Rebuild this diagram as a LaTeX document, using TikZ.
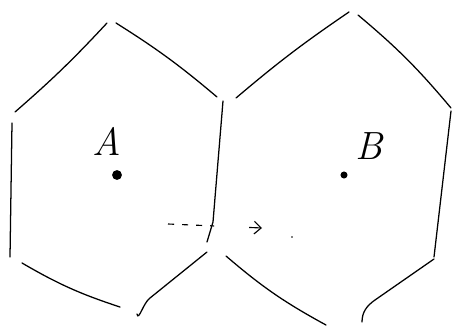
\documentclass[tikz,border=0pt]{standalone}
\usepackage{tikz}
\usetikzlibrary{arrows.meta, positioning, calc}

\begin{document}
\begin{tikzpicture}[
  x=0.025cm, y=-0.025cm,
  edge/.style  = {line width=0.9pt, black, line cap=round},
  site/.style  = {circle, fill=black, inner sep=0pt, minimum size=7pt},
  sitesm/.style = {site, minimum size=5pt},
  lbl/.style   = {font=\fontsize{28}{28}\selectfont\itshape, inner sep=0pt},
  arr/.style   = {-{Straight Barb[length=5pt,width=9pt]}, line width=0.8pt,
                  dash pattern=on 4.3pt off 5.7pt on 4.3pt off 5.7pt on 4.3pt
                  off 5.7pt on 2.8pt off 25pt on 12pt}
]
\useasboundingbox (0,0) rectangle (452,328);

%% ---- left cell ----
\draw[edge] (107,23) to[bend left=3] (15,112);
\draw[edge] (116,23) to[bend left=4] (217,97);
\draw[edge] (12,123) -- (10,257);
\draw[edge] (22,263) to[bend right=6] (120,307);
\draw[edge] (137,314) to[out=-80,in=215] (150,298) -- (207,252);

%% ---- shared border ----
\draw[edge] (223,101) -- (213,222) -- (210,232) -- (207,242);

%% ---- right cell ----
\draw[edge] (349,12) to[bend right=3] (236,98);
\draw[edge] (358,15) to[bend left=5] (451,108);
\draw[edge] (451,111) -- (434,257);
\draw[edge] (434,259) -- (375,300) to[out=-145,in=90] (362,322);
\draw[edge] (226,256) to[bend right=6] (326,325);

%% ---- sites ----
\node[site]   (a) at (117,175) {};
\node[sitesm] (b) at (344,175) {};
\node[lbl] (alab) at (107,141) {A};
\node[lbl] (blab) at (369,146) {B};

%% ---- move from A towards B ----
\coordinate (mstart) at (168,224);
\coordinate (mend)   at (262,228);
\draw[arr] (mstart) -- (mend);
\fill (292,237) circle (0.6pt);

\end{tikzpicture}
\end{document}
